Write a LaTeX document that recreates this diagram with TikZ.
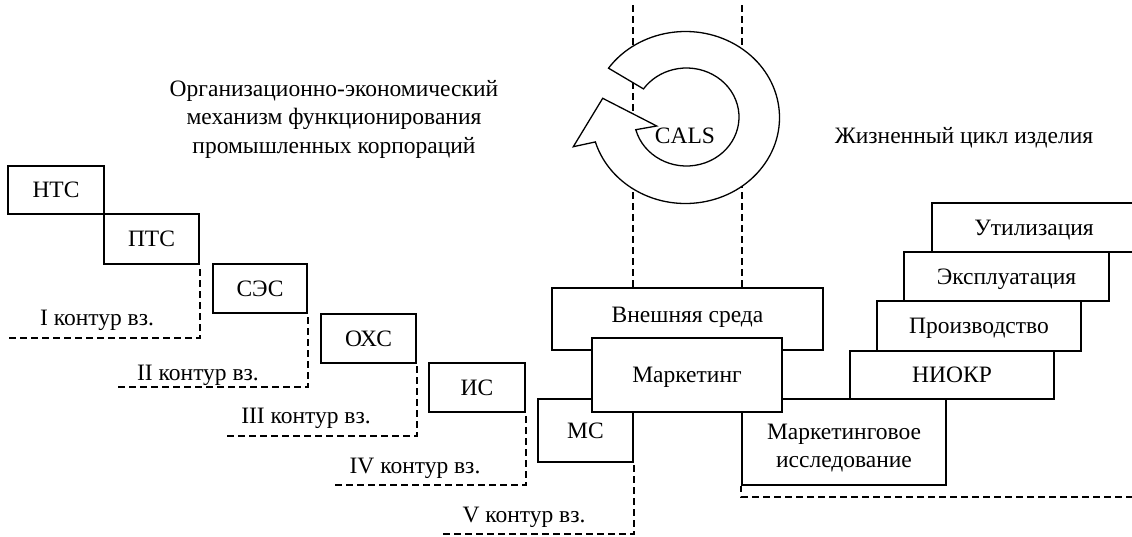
\documentclass[tikz,border=0pt]{standalone}
\usepackage{fontspec}
\setmainfont{Liberation Serif}
\usetikzlibrary{calc}

\tikzset{
  blk/.style={draw, fill=white, line width=1.8pt, inner sep=0pt,
              text height=15.5pt, text depth=0pt},
  lbl/.style={inner sep=0pt, anchor=base},
  dsh/.style={line width=1.4pt, dash pattern=on 6.5pt off 4.5pt},
  ring/.style={draw, fill=white, line width=1.3pt, line join=miter}
}

% box given by its corners (x1,y1) and (x2,y2), y measured downwards
\newcommand\placebox[7][]{%
  \node[blk,#1,minimum width={(#5-#3)*1pt},minimum height={(#6-#4)*1pt}]
    (#2) at ({(#3+#5)/2},{(#4+#6)/2}) {#7};}

\begin{document}
\begin{tikzpicture}[x=1pt, y=-1pt, font=\fontsize{23.5}{28.5}\selectfont]
\useasboundingbox (0,0) rectangle (1132,536);
\clip (0,0) rectangle (1132,536);

% headings
\node[inner sep=0pt, align=center] (mech) at (334,119)
  {Организационно-экономический\\механизм функционирования\\промышленных корпораций};
\node[lbl] (life) at (964,143) {Жизненный цикл изделия};

% left staircase of systems
\placebox{nts}{8}{166}{104}{214}{НТС}
\placebox{pts}{104}{214}{199}{264}{ПТС}
\placebox{ses}{213}{264}{307}{313}{СЭС}
\placebox{oxs}{321}{314}{416}{363}{ОХС}
\placebox{is}{429}{363}{525}{412}{ИС}

% centre block
\placebox[text depth=8pt]{vs}{552}{288}{823}{350}{Внешняя среда}
\placebox{ms}{538}{399}{633}{462}{МС}
\placebox{mi}{742}{399}{946}{485}{}
\node[inner sep=0pt, align=center] (mit) at (844,448) {Маркетинговое\\исследование};
\placebox{mk}{592}{338}{782}{412}{Маркетинг}

% right staircase of life-cycle stages
\placebox{niokr}{850}{351}{1054}{399}{НИОКР}
\placebox{prod}{877}{301}{1081}{351}{Производство}
\placebox{expl}{904}{252}{1109}{301}{Эксплуатация}
\placebox{util}{932}{203}{1136}{252}{Утилизация}

% interaction contours
\coordinate (k1) at (9,338);
\coordinate (k2) at (118,387);
\coordinate (k3) at (227,436);
\coordinate (k4) at (335,485);
\coordinate (k5) at (443,534);
\draw[dsh] (k1) -| (pts.south east);
\draw[dsh] (k2) -| (ses.south east);
\draw[dsh] (k3) -| (oxs.south east);
\draw[dsh] (k4) -| (is.south east);
\draw[dsh] (k5) -| (ms.south east);
\node[lbl] (c1) at (97,325) {I контур вз.};
\node[lbl] (c2) at (198,380) {II контур вз.};
\node[lbl] (c3) at (306,423) {III контур вз.};
\node[lbl] (c4) at (415,473) {IV контур вз.};
\node[lbl] (c5) at (524,522) {V контур вз.};

% CALS corridor and life-cycle boundary
\coordinate (t1) at (633,5);
\coordinate (t2) at (742,5);
\draw[dsh] (t1) -- (t1 |- vs.north);
\draw[dsh] (t2) -- (t2 |- vs.north);
\coordinate (b1) at (1132,497);
\draw[dsh] (mi.south west) |- (b1);

% CALS circular arrow
\coordinate (co) at (685.5,117.5);
\coordinate (ci) at (686.5,117);
\coordinate (hb1) at (573.3,146.7);
\coordinate (htip) at (602.7,98.3);
\coordinate (hb2) at (656.7,126);
\draw[ring] ($(co)+(145:94pt and 86pt)$)
  arc[start angle=145, end angle=-163.5, x radius=94pt, y radius=86pt]
  -- (hb1) -- (htip) -- (hb2)
  -- ($(ci)+(-165:52.5pt and 49pt)$)
  arc[start angle=-165, end angle=145, x radius=52.5pt, y radius=49pt]
  -- cycle;
\node[inner sep=0pt, text height=15.5pt, text depth=0pt] (cals) at (685,135.5) {CALS};
\end{tikzpicture}
\end{document}
